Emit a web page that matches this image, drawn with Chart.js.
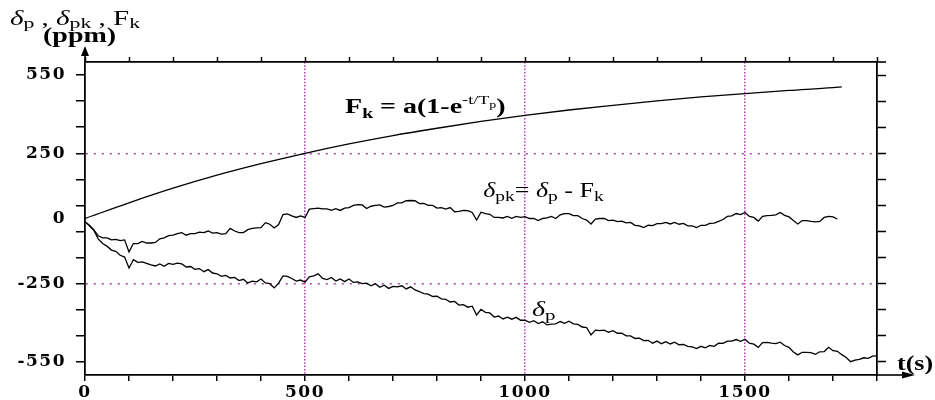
<!DOCTYPE html>
<html>
<head>
<meta charset="utf-8">
<script src="https://cdn.jsdelivr.net/npm/chart.js@4.4.1/dist/chart.umd.min.js"></script>
<style>
  html, body { margin: 0; padding: 0; background: #fff; }
  #wrap { width: 935px; height: 400px; position: relative; }
</style>
</head>
<body>
<div id="wrap"><canvas id="chart"></canvas></div>
<script>
// ─── Dados ───────────────────────────────────────────────────────────────────

// F_k = a(1 - e^(-t/Tp)) : pontos a cada 100 s
const T_FK = [0, 100, 200, 300, 400, 500, 600, 700, 800, 900, 1000, 1100, 1200, 1300, 1400, 1500, 1600, 1700, 1720];
const FK = [0, 60, 116, 166, 210, 250, 286, 318, 346, 372, 395, 416, 434, 451, 466, 479, 491, 502, 505];

// δp e δpk : amostras a cada 10 s
const T_STEP = 10;
const DELTA_P = [
  -12, -28, -45, -78, -96, -106, -121, -126, -141, -148,
  -190, -158, -168, -166, -172, -178, -182, -174, -183, -172,
  -176, -171, -174, -186, -184, -195, -192, -204, -196, -209,
  -212, -222, -218, -228, -226, -238, -233, -247, -240, -243,
  -232, -247, -250, -266, -248, -220, -222, -230, -240, -236,
  -244, -224, -220, -212, -230, -234, -226, -240, -232, -242,
  -232, -245, -243, -250, -248, -258, -250, -264, -256, -268,
  -260, -262, -258, -270, -262, -274, -280, -288, -290, -299,
  -298, -308, -310, -320, -318, -332, -330, -340, -336, -370,
  -348, -360, -362, -378, -374, -385, -378, -386, -379, -390,
  -390, -398, -392, -403, -396, -408, -405, -404, -395, -402,
  -394, -404, -406, -416, -418, -446, -428, -430, -428, -436,
  -430, -440, -440, -450, -450, -460, -459, -468, -467, -478,
  -470, -480, -472, -481, -474, -484, -483, -490, -492, -499,
  -490, -496, -487, -490, -478, -479, -470, -470, -464, -471,
  -463, -478, -482, -494, -476, -475, -478, -480, -474, -487,
  -494, -512, -523, -513, -513, -514, -521, -511, -510, -494,
  -507, -509, -522, -533, -549, -543, -540, -534, -536, -528,
  -527
];
const DELTA_PK = [
  -12, -26, -44, -66, -74, -74, -82, -80, -85, -82,
  -128, -96, -96, -88, -94, -94, -92, -78, -74, -66,
  -64, -58, -54, -64, -58, -58, -52, -54, -48, -56,
  -54, -60, -58, -38, -48, -54, -54, -43, -38, -36,
  -35, -16, -22, -36, -23, 15, 18, 10, 4, 10,
  4, 36, 38, 40, 37, 37, 31, 38, 31, 40,
  42, 50, 53, 52, 38, 47, 50, 52, 44, 46,
  50, 60, 60, 68, 69, 68, 57, 58, 50, 50,
  40, 42, 36, 42, 26, 27, 31, 30, 23, -6,
  24, 19, 16, 4, 4, 2, 8, 1, 8, 4,
  7, 0, 0, -8, 0, 2, 8, 0, 14, 19,
  19, 11, 11, 0, -6, -21, -2, 0, 0, -8,
  -6, -12, -10, -17, -15, -26, -28, -35, -26, -27,
  -20, -20, -15, -21, -15, -22, -19, -28, -28, -35,
  -26, -26, -19, -18, -11, -4, 8, 10, 19, 15,
  23, 8, 4, -10, 8, 11, 12, 14, 23, 12,
  6, -8, -21, -8, -8, -11, -13, -11, 4, 8,
  6, -2
];

// ─── Eixos ───────────────────────────────────────────────────────────────────

const X_MIN = 0, X_MAX = 1800;
const Y_MIN = -600, Y_MAX = 600;
const X_TICKS = [0, 100, 200, 300, 400, 500, 600, 700, 800, 900, 1000, 1100, 1200, 1300, 1400, 1500, 1600, 1700, 1800];
const X_LABELS = [0, 500, 1000, 1500];
const X_GRID = [500, 1000, 1500];
const Y_TICKS = [-550, -450, -350, -250, -150, -50, 50, 150, 250, 350, 450, 550];
const Y_LABELS = [550, 250, 0, -250, -550];
const Y_GRID = [250, -250];

const MAGENTA = '#b43cb4';
const TICK_FONT = { family: 'DejaVu Serif', size: 17, weight: 'bold' };
const SERIF = '"Liberation Serif", "Times New Roman", serif';

const toPoints = (times, values) => values.map((v, i) => ({ x: times[i], y: v }));
const stepTimes = n => Array.from({ length: n }, (_, i) => i * T_STEP);

// ─── Texto com índices (sub/sobrescritos) ────────────────────────────────────

function richText(ctx, x, y, parts, sx) {
  ctx.save();
  ctx.letterSpacing = '0px';
  ctx.translate(x, y);
  ctx.scale(sx, 1);
  ctx.fillStyle = '#000';
  ctx.textBaseline = 'alphabetic';
  let cx = 0;
  parts.forEach(p => {
    const style = (p.italic ? 'italic ' : '') + (p.bold ? 'bold ' : '');
    ctx.font = `${style}${p.size}px ${SERIF}`;
    ctx.fillText(p.t, cx, p.dy || 0);
    cx += ctx.measureText(p.t).width;
  });
  ctx.restore();
}

const decor = {
  id: 'decor',
  beforeDraw(chart) {
    chart.ctx.letterSpacing = '1.5px';
  },
  afterDraw(chart) {
    const { ctx, chartArea: a, scales } = chart;
    const px = v => scales.x.getPixelForValue(v);
    const py = v => scales.y.getPixelForValue(v);
    ctx.save();
    ctx.letterSpacing = '0px';
    ctx.strokeStyle = '#000';
    ctx.fillStyle = '#000';
    ctx.lineWidth = 1.6;

    // eixo vertical com seta
    ctx.beginPath();
    ctx.moveTo(a.left, a.top);
    ctx.lineTo(a.left, a.top - 8);
    ctx.stroke();
    ctx.beginPath();
    ctx.moveTo(a.left, a.top - 16);
    ctx.lineTo(a.left - 4, a.top - 6);
    ctx.lineTo(a.left + 4, a.top - 6);
    ctx.closePath();
    ctx.fill();

    // eixo horizontal com seta
    ctx.beginPath();
    ctx.moveTo(a.right, a.bottom);
    ctx.lineTo(a.right + 30, a.bottom);
    ctx.stroke();
    ctx.beginPath();
    ctx.moveTo(a.right + 38, a.bottom);
    ctx.lineTo(a.right + 25, a.bottom - 3.5);
    ctx.lineTo(a.right + 25, a.bottom + 3.5);
    ctx.closePath();
    ctx.fill();

    // prolongamento da moldura superior
    ctx.beginPath();
    ctx.moveTo(a.right, a.top);
    ctx.lineTo(a.right + 9, a.top);
    ctx.stroke();
    ctx.restore();

    const main = 20, sub = 15;
    // título do eixo y
    richText(ctx, a.left - 75, a.top - 37, [
      { t: 'δ', size: main, italic: true },
      { t: 'p', size: sub, dy: 3 },
      { t: ' , ', size: main },
      { t: 'δ', size: main, italic: true },
      { t: 'pk', size: sub, dy: 3 },
      { t: ' , ', size: main },
      { t: 'F', size: main },
      { t: 'k', size: sub, dy: 3 },
    ], 1.45);
    richText(ctx, a.left - 42, a.top - 20, [{ t: '(ppm)', size: main, bold: true }], 1.4);

    // título do eixo x
    richText(ctx, a.right + 20, a.bottom - 5, [{ t: 't(s)', size: main, bold: true }], 1.3);

    // rótulos das curvas
    richText(ctx, px(591), py(404), [
      { t: 'F', size: main, bold: true },
      { t: 'k', size: 14, bold: true, dy: 5 },
      { t: ' = a(1-e', size: main, bold: true },
      { t: '-t/T', size: 13, dy: -9 },
      { t: 'p', size: 10, dy: -5 },
      { t: ')', size: main, bold: true },
    ], 1.4);
    richText(ctx, px(905), py(82), [
      { t: 'δ', size: main, italic: true },
      { t: 'pk', size: sub, dy: 4 },
      { t: '= ', size: main },
      { t: 'δ', size: main, italic: true },
      { t: 'p', size: sub, dy: 4 },
      { t: ' - ', size: main },
      { t: 'F', size: main },
      { t: 'k', size: sub, dy: 4 },
    ], 1.3);
    richText(ctx, px(1016), py(-374), [
      { t: 'δ', size: main, italic: true },
      { t: 'p', size: sub, dy: 4 },
    ], 1.4);
  }
};

// ─── Configuração ────────────────────────────────────────────────────────────

const lineStyle = {
  borderColor: '#000',
  borderWidth: 1.3,
  pointRadius: 0,
  tension: 0,
  fill: false,
};

const setTicks = list => s => { s.ticks = list.map(v => ({ value: v })); };

new Chart(document.getElementById('chart'), {
  type: 'line',
  data: {
    datasets: [
      { ...lineStyle, label: 'Fk', data: toPoints(T_FK, FK), cubicInterpolationMode: 'monotone' },
      { ...lineStyle, label: 'δpk', data: toPoints(stepTimes(DELTA_PK.length), DELTA_PK) },
      { ...lineStyle, label: 'δp', data: toPoints(stepTimes(DELTA_P.length), DELTA_P) },
    ]
  },
  options: {
    responsive: true,
    maintainAspectRatio: false,
    animation: false,
    layout: { padding: 0 },
    plugins: { legend: { display: false }, tooltip: { enabled: false } },
    scales: {
      x: {
        type: 'linear', position: 'bottom', min: X_MIN, max: X_MAX,
        afterBuildTicks: setTicks(X_TICKS),
        afterFit: s => { s.height = 25; },
        ticks: {
          autoSkip: false, maxRotation: 0, padding: 1, color: '#000', font: TICK_FONT,
          callback: v => X_LABELS.includes(v) ? String(v) : '',
        },
        grid: {
          color: c => X_GRID.includes(c.tick.value) ? MAGENTA : 'transparent',
          lineWidth: 1.5, tickColor: '#000', tickWidth: 1.5, tickLength: 6,
        },
        border: { display: true, color: '#000', width: 1.8, dash: [1.5, 1.8] },
      },
      x2: {
        type: 'linear', position: 'top', min: X_MIN, max: X_MAX,
        afterBuildTicks: setTicks(X_TICKS),
        afterFit: s => { s.height = 62; },
        ticks: { autoSkip: false, callback: () => '' },
        grid: { drawOnChartArea: false, color: '#000', tickColor: '#000', tickWidth: 1.5, tickLength: 5 },
        border: { display: true, color: '#000', width: 1.8 },
      },
      y: {
        type: 'linear', position: 'left', min: Y_MIN, max: Y_MAX,
        afterBuildTicks: setTicks([...Y_TICKS, 0].sort((p, q) => p - q)),
        afterFit: s => { s.width = 85; },
        ticks: {
          autoSkip: false, padding: 10, color: '#000', font: TICK_FONT,
          callback: v => Y_LABELS.includes(v) ? String(v) : '',
        },
        grid: {
          color: c => Y_GRID.includes(c.tick.value) ? MAGENTA : 'transparent',
          lineWidth: 1.5, tickWidth: 1.5, tickLength: 9,
          tickColor: c => Y_TICKS.includes(c.tick.value) ? '#000' : 'transparent',
        },
        border: { display: true, color: '#000', width: 1.8, dash: [2, 6] },
      },
      y2: {
        type: 'linear', position: 'right', min: Y_MIN, max: Y_MAX,
        afterBuildTicks: setTicks(Y_TICKS),
        afterFit: s => { s.width = 58; },
        ticks: { autoSkip: false, callback: () => '' },
        grid: { drawOnChartArea: false, color: '#000', tickColor: '#000', tickWidth: 1.5, tickLength: 9 },
        border: { display: true, color: '#000', width: 1.8 },
      },
    }
  },
  plugins: [decor]
});
</script>
</body>
</html>
